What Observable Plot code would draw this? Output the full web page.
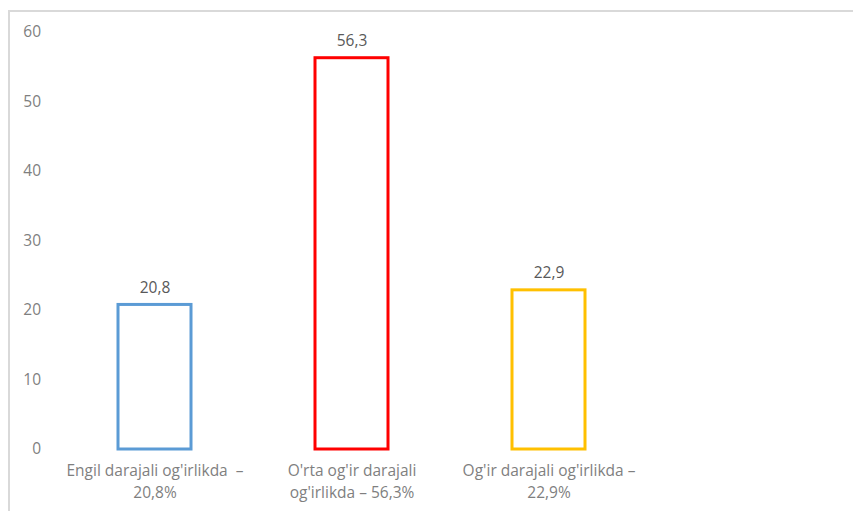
<!DOCTYPE html>
<html>
<head>
<meta charset="utf-8">
<script src="https://cdn.jsdelivr.net/npm/d3@7"></script>
<script src="https://cdn.jsdelivr.net/npm/@observablehq/plot@0.6"></script>
<style>
  html, body { margin: 0; padding: 0; background: #fff; overflow: hidden; }
  #wrap { position: relative; width: 853px; height: 511px; }
  #border { position: absolute; left: 8px; top: 10px; width: 900px; height: 600px; border: 2px solid #d9d9d9; box-sizing: border-box; }
  #chart { position: absolute; left: 0; top: 0; }
</style>
</head>
<body>
<div id="wrap"><div id="border"></div><div id="chart"></div></div>
<script>
const categories = ["Engil darajali og'irlikda  –\n20,8%", "O'rta og'ir darajali\nog'irlikda – 56,3%", "Og'ir darajali og'irlikda –\n22,9%"];
const values = [20.8, 56.3, 22.9];
const colors = ["#5B9BD5", "#FF0000", "#FFC000"];
const yTicks = [0, 10, 20, 30, 40, 50, 60];

const data = categories.map((c, i) => ({cat: c, value: values[i], color: colors[i]}));
const fmt = v => v.toFixed(1).replace(".", ",");

const chart = Plot.plot({
  width: 853,
  height: 511,
  marginLeft: 55.5,
  marginRight: 206.5,
  marginTop: 32,
  marginBottom: 62,
  style: {fontFamily: "'Open Sans', sans-serif", background: "transparent"},
  x: {domain: categories, paddingInner: 0.63, paddingOuter: 0.315, label: null},
  y: {domain: [0, 60], ticks: yTicks, label: null},
  marks: [
    Plot.axisY({ticks: yTicks, tickSize: 0, tickPadding: 15, fontSize: 15.5, color: "#7f7f7f", tickFormat: d => String(d)}),
    Plot.axisX({tickSize: 0, tickPadding: 11, fontSize: 15.5, color: "#7f7f7f", lineHeight: 1.42, lineAnchor: "top"}),
    Plot.barY(data, {x: "cat", y: "value", fill: "white", stroke: "color", strokeWidth: 3}),
    Plot.text(data, {x: "cat", y: "value", text: d => fmt(d.value), dy: -12, lineAnchor: "bottom", fontSize: 15.5, fill: "#595959"})
  ]
});
document.getElementById("chart").appendChild(chart);
</script>
</body>
</html>
